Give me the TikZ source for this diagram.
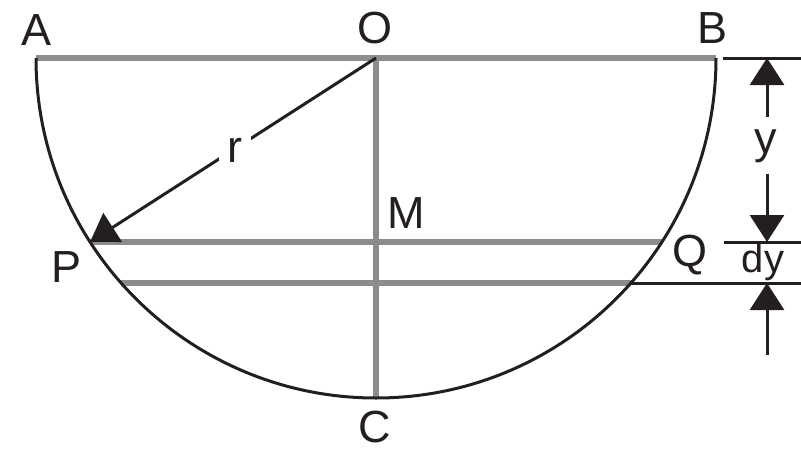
\documentclass[tikz,border=0pt]{standalone}
\usepackage{fontspec}
\setmainfont{Liberation Sans}
\usetikzlibrary{arrows.meta}
\definecolor{ink}{HTML}{231F20}
\definecolor{rulegray}{HTML}{8C8C8C}

\begin{document}
\begin{tikzpicture}[x=1pt,y=-1pt,
  lbl/.style={text=ink,font=\fontsize{45}{50}\selectfont,inner sep=0pt,anchor=base},
  outline/.style={ink,line width=3pt},
  chord/.style={rulegray,line width=5.5pt},
  dimline/.style={ink,line width=3pt},
  headon/.style={-{Triangle[length=27pt,width=34pt]}}
]
  \useasboundingbox (0,0) rectangle (801,450);

  % Key points of the half circle (centre O, radius 340)
  \coordinate (O) at (376,58);
  \coordinate (A) at (36,58);
  \coordinate (B) at (716,58);
  \coordinate (C) at (376,398);
  \coordinate (P) at (90,242);
  \coordinate (Q) at (662,242);
  \coordinate (S) at (121,283);
  \coordinate (T) at (631,283);

  % Grey diameter, radius and the two chords
  \foreach \a/\b in {A/B,O/C,P/Q,S/T}{
    \draw[chord] (\a) -- (\b);
  }

  % The half circle itself
  \draw[outline] (A) arc[start angle=180,end angle=360,radius=340pt];

  % Radius OP with its label
  \draw[outline,headon] (O) -- (P);
  \node[lbl,fill=white,inner xsep=9pt,inner ysep=8pt] (labr) at (235,162) {r};

  % Extension lines on the right
  \coordinate (d1) at (723,58);  \coordinate (e1) at (801,58);
  \coordinate (d2) at (724,242); \coordinate (e2) at (801,242);
  \coordinate (e3) at (801,283);
  \foreach \a/\b in {d1/e1,d2/e2,T/e3}{
    \draw[dimline] (\a) -- (\b);
  }

  % Dimension arrows y and dy
  \coordinate (y0) at (767,58);
  \coordinate (y1) at (767,242);
  \coordinate (y2) at (767,283);
  \coordinate (y3) at (767,355);
  \draw[dimline,{Triangle[length=27pt,width=34pt]}-{Triangle[length=27pt,width=34pt]}] (y0) -- (y1);
  \draw[dimline,headon] (y3) -- (y2);
  \node[lbl,fill=white,inner xsep=4pt,inner ysep=12pt] (laby) at (766,153) {y};
  \node[lbl,font=\fontsize{40}{44}\selectfont] (labdy) at (763,272) {dy};

  % Point labels
  \node[lbl] (labA) at (37,45)  {A};
  \node[lbl] (labO) at (375,43) {O};
  \node[lbl] (labB) at (713,43) {B};
  \node[lbl] (labM) at (406,228) {M};
  \node[lbl] (labP) at (67,282) {P};
  \node[lbl] (labQ) at (690,266) {Q};
  \node[lbl] (labC) at (375,442) {C};
\end{tikzpicture}
\end{document}
